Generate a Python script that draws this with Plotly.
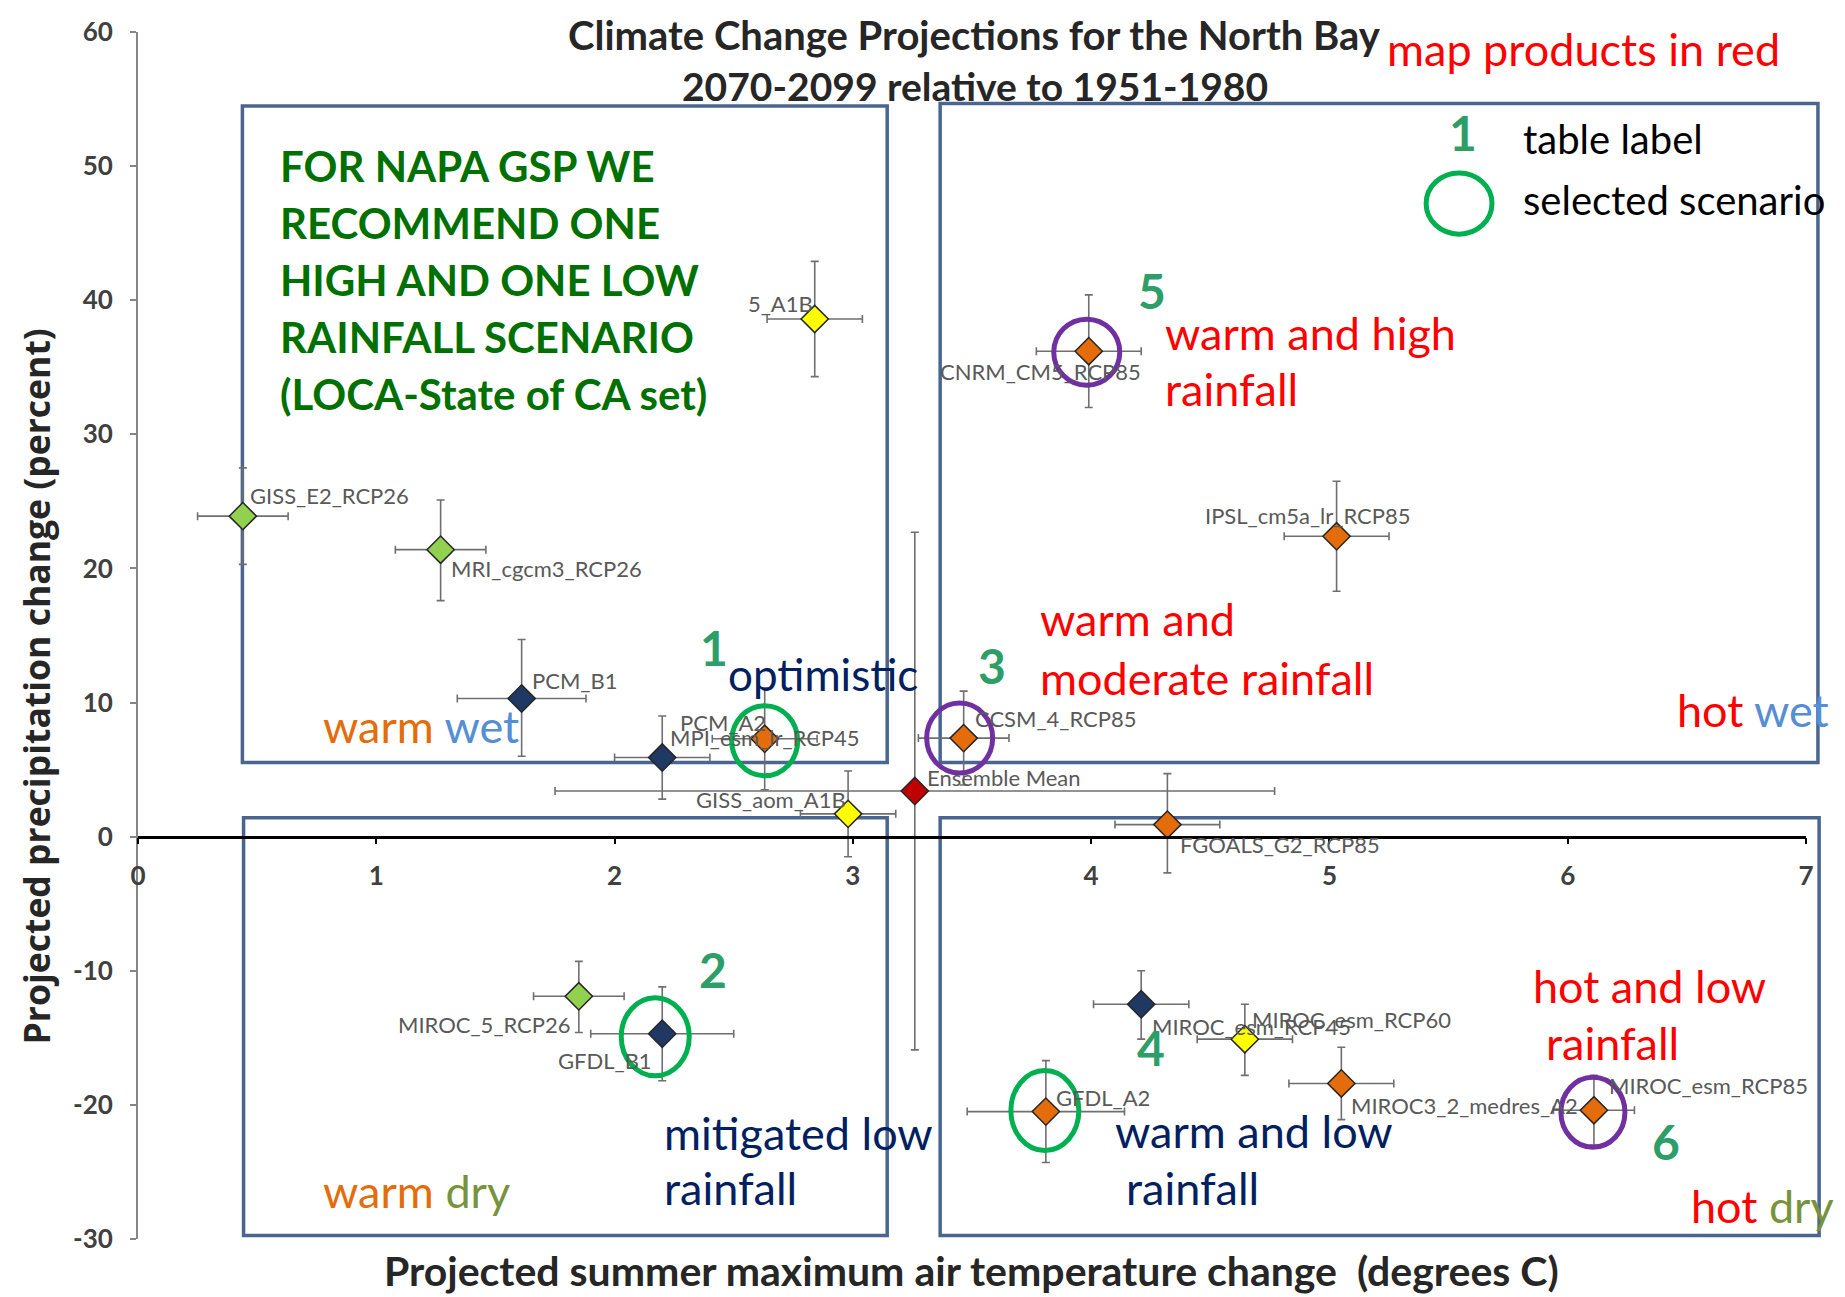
import plotly.graph_objects as go

# ---------------- data ----------------
models = ["GISS_E2_RCP26", "MRI_cgcm3_RCP26", "5_A1B", "PCM_B1", "PCM_A2",
          "MPI_esm_lr_RCP45", "GISS_aom_A1B", "Ensemble Mean", "CCSM_4_RCP85",
          "CNRM_CM5_RCP85", "IPSL_cm5a_lr_RCP85", "FGOALS_G2_RCP85",
          "MIROC_5_RCP26", "GFDL_B1", "MIROC_esm_RCP45", "MIROC_esm_RCP60",
          "MIROC3_2_medres_A2", "MIROC_esm_RCP85", "GFDL_A2"]
temp_change = [0.44, 1.27, 2.84, 1.61, 2.20, 2.63, 2.98, 3.26, 3.465, 3.99, 5.03,
               4.32, 1.85, 2.20, 4.21, 4.645, 5.05, 6.11, 3.81]
precip_change = [23.9, 21.4, 38.6, 10.3, 5.9, 7.3, 1.7, 3.4, 7.35, 36.2, 22.4,
                 0.9, -11.9, -14.7, -12.5, -15.1, -18.4, -20.4, -20.5]
temp_err = [0.19, 0.19, 0.20, 0.27, 0.20, 0.22, 0.20, 1.51, 0.19, 0.22, 0.22,
            0.22, 0.19, 0.30, 0.20, 0.20, 0.22, 0.17, 0.33]
precip_err_plus = [3.6, 3.7, 4.3, 4.4, 3.1, 3.8, 3.2, 19.3, 3.5, 4.2, 4.1,
                   3.8, 2.6, 3.5, 2.5, 2.6, 2.7, 2.6, 3.8]
precip_err_minus = [3.6, 3.8, 4.3, 4.3, 3.1, 3.8, 3.2, 19.3, 3.5, 4.2, 4.1,
                    3.6, 2.7, 3.5, 2.6, 2.7, 2.7, 2.6, 3.8]
model_group = ["RCP26", "RCP26", "A1B", "low", "low", "high", "A1B", "mean", "high",
               "high", "high", "high", "RCP26", "low", "low", "A1B", "high", "high", "high"]
selected_green = ["MPI_esm_lr_RCP45", "GFDL_B1", "GFDL_A2"]
selected_purple = ["CCSM_4_RCP85", "CNRM_CM5_RCP85", "MIROC_esm_RCP85"]
x_ticks = [0, 1, 2, 3, 4, 5, 6, 7]
y_ticks = [-30, -20, -10, 0, 10, 20, 30, 40, 50, 60]
y_tick_labels = ["-30", "-20", "-10", "0", "10", "20", "30", "40", "50", "60"]

# ---------------- styling ----------------
group_colors = {"RCP26": "#92d050", "A1B": "#ffff00", "low": "#1f3864",
                "high": "#e46c0a", "mean": "#c00000"}
# label placement: (xanchor, xshift px, yshift px)
label_place = {
    "GISS_E2_RCP26": ("left", 5, 21), "MRI_cgcm3_RCP26": ("left", 8, -19),
    "5_A1B": ("right", 0, 16), "PCM_B1": ("left", 8, 18), "PCM_A2": ("left", 16, 35),
    "MPI_esm_lr_RCP45": ("center", 0, 1), "GISS_aom_A1B": ("right", 0, 14),
    "Ensemble Mean": ("left", 10, 14), "CCSM_4_RCP85": ("left", 9, 20),
    "CNRM_CM5_RCP85": ("center", -48, -20), "IPSL_cm5a_lr_RCP85": ("center", -29, 21),
    "FGOALS_G2_RCP85": ("left", 11, -20), "MIROC_5_RCP26": ("right", -6, -28),
    "GFDL_B1": ("right", -8, -27), "MIROC_esm_RCP45": ("left", 9, -22),
    "MIROC_esm_RCP60": ("left", 5, 20), "MIROC3_2_medres_A2": ("left", 8, -22),
    "MIROC_esm_RCP85": ("left", 13, 25), "GFDL_A2": ("left", 8, 14),
}
# circle (dx, dy, rx, ry) in px
circle_geom = {
    "MPI_esm_lr_RCP45": (0, 2, 33, 35), "GFDL_B1": (-7, 3, 34, 39), "GFDL_A2": (-1, -1, 34, 40),
    "CCSM_4_RCP85": (-4, 0, 33, 35), "CNRM_CM5_RCP85": (-2, 1, 33, 33),
    "MIROC_esm_RCP85": (-1, 2, 32, 35),
}

OFF = 8  # page body margin
W, H = 1845 - OFF, 1297 - OFF
PL, PR, PT, PB = 138, 1806, 32, 1239   # plot area in page pixels
ML, MT = PL - OFF, PT - OFF
MR, MB = (W + OFF) - PR, (H + OFF) - PB
PW, PH = PR - PL, PB - PT
S = 1845 / 1568.0


def px(xs):
    return (xs * S - PL) / PW


def py(ys):
    return (PB - ys * S) / PH


FONT = "Lato"
fig = go.Figure()

fig.add_trace(go.Scatter(
    x=temp_change, y=precip_change, mode="markers",
    marker=dict(symbol="diamond", size=21,
                color=[group_colors[g] for g in model_group],
                line=dict(color="#262626", width=1.5)),
    error_x=dict(type="data", array=temp_err, color="#6f6f6f", thickness=1.6, width=4),
    error_y=dict(type="data", array=precip_err_plus, arrayminus=precip_err_minus,
                 color="#6f6f6f", thickness=1.6, width=4),
    hoverinfo="skip", showlegend=False,
))

annotations = []
for m, xv, yv in zip(models, temp_change, precip_change):
    xa, xs_, ys_ = label_place[m]
    annotations.append(dict(x=xv, y=yv, xref="x", yref="y", text=m, showarrow=False,
                            xanchor=xa, yanchor="middle", xshift=xs_, yshift=ys_,
                            font=dict(family=FONT, size=22, color="#595959")))

shapes = []
# quadrant boxes (shrunk-pixel layout positions)
boxes = [(206, 90, 754, 648), (799, 88, 1545, 648), (207, 695, 754, 1050), (799, 695, 1546, 1050)]
for x0, y0, x1, y1 in boxes:
    shapes.append(dict(type="rect", xref="paper", yref="paper", x0=px(x0), x1=px(x1),
                       y0=py(y1), y1=py(y0), line=dict(color="#4a6590", width=3.5),
                       fillcolor="rgba(0,0,0,0)", layer="below"))

for m, xv, yv in zip(models, temp_change, precip_change):
    if m in selected_green or m in selected_purple:
        dx, dy, rx, ry = circle_geom[m]
        col = "#00b050" if m in selected_green else "#7030a0"
        shapes.append(dict(type="circle", xref="x", yref="y", xsizemode="pixel",
                           ysizemode="pixel", xanchor=xv, yanchor=yv,
                           x0=dx - rx, x1=dx + rx, y0=-dy - ry, y1=-dy + ry,
                           line=dict(color=col, width=5)))

# legend circle
shapes.append(dict(type="circle", xref="paper", yref="paper", x0=px(1212), x1=px(1268),
                   y0=py(199), y1=py(147), line=dict(color="#00b050", width=5)))
# frame lines
shapes.append(dict(type="line", xref="paper", yref="paper", x0=px(0), x1=px(1568),
                   y0=py(2), y1=py(2), line=dict(color="#a6a6a6", width=2)))
shapes.append(dict(type="line", xref="paper", yref="paper", x0=px(1564), x1=px(1564),
                   y0=py(0), y1=py(1102), line=dict(color="#a6a6a6", width=2)))

RED = "#ff0000"; NAVY = "#002060"; DGREEN = "#007000"; NUMG = "#2e9e68"
ORANGE = "#e46c0a"; BLUE = "#558ed5"; OLIVE = "#77933c"


def txt(text, xs, ys, anchor="left", size=45, color="black", bold=False, family=FONT):
    if bold:
        text = "<b>" + text + "</b>"
    annotations.append(dict(x=px(xs), y=py(ys), xref="paper", yref="paper", text=text,
                            showarrow=False, xanchor=anchor, yanchor="middle",
                            font=dict(family=family, size=size, color=color)))


txt("Climate Change Projections for the North Bay", 828, 30, "center", 40, "#262626", True)
txt("2070-2099 relative to 1951-1980", 829, 73, "center", 39, "#262626", True)
txt("map products in red", 1177, 42, "left", 45, RED)
txt("1", 1243, 113, "center", 48, NUMG, True)
txt("table label", 1293, 118, "left", 40, "black")
txt("selected scenario", 1293, 170, "left", 40, "black")
for i, line in enumerate(["FOR NAPA GSP WE", "RECOMMEND ONE", "HIGH AND ONE LOW",
                          "RAINFALL SCENARIO", "(LOCA-State of CA set)"]):
    txt(line, 236, 141 + i * 48.5, "left", 42, DGREEN, True)
txt("5", 979, 247, "center", 48, NUMG, True)
txt("warm and high", 988, 283, "left", 45, RED)
txt("rainfall", 988, 331, "left", 45, RED)
txt("warm and", 882, 526, "left", 45, RED)
txt("moderate rainfall", 882, 576, "left", 45, RED)
txt("3", 843, 566, "center", 48, NUMG, True)
txt("1", 607, 550, "center", 48, NUMG, True)
txt("optimistic", 617, 573, "left", 44, NAVY)
txt('<span style="color:%s">warm</span> <span style="color:%s">wet</span>' % (ORANGE, BLUE),
    273, 617, "left", 45)
txt('<span style="color:%s">hot</span> <span style="color:%s">wet</span>' % (RED, BLUE),
    1556, 603, "right", 45)
txt("2", 606, 824, "center", 48, NUMG, True)
txt("mitigated low", 563, 963, "left", 45, NAVY)
txt("rainfall", 563, 1010, "left", 45, NAVY)
txt('<span style="color:%s">warm</span> <span style="color:%s">dry</span>' % (ORANGE, OLIVE),
    273, 1012, "left", 45)
txt("4", 978, 890, "center", 48, NUMG, True)
txt("warm and low", 946, 961, "left", 45, NAVY)
txt("rainfall", 955, 1010, "left", 45, NAVY)
txt("hot and low", 1402, 838, "center", 45, RED)
txt("rainfall", 1370, 886, "center", 45, RED)
txt("6", 1416, 970, "center", 48, NUMG, True)
txt('<span style="color:%s">hot</span> <span style="color:%s">dry</span>' % (RED, OLIVE),
    1560, 1025, "right", 45)
txt("Projected summer maximum air temperature change  (degrees C)", 826, 1080, "center",
    41, "#262626", True)
annotations.append(dict(x=px(31), y=py(583), xref="paper", yref="paper",
                        text="<b>Projected precipitation change (percent)</b>", textangle=-90,
                        showarrow=False, xanchor="center", yanchor="middle",
                        font=dict(family="Open Sans", size=35.5, color="#262626")))

fig.update_layout(
    width=W, height=H, margin=dict(l=ML, r=MR, t=MT, b=MB),
    paper_bgcolor="white", plot_bgcolor="white",
    xaxis=dict(range=[0, 7], tickvals=x_ticks, anchor="free", position=1 / 3,
               automargin=False, showgrid=False, zeroline=False, showline=True,
               linecolor="#000000", linewidth=2.5, ticks="outside", ticklen=6,
               tickcolor="#000000", tickwidth=2, ticklabelstandoff=9,
               tickfont=dict(family=FONT, size=26, color="#404040", weight="bold")),
    yaxis=dict(range=[-30, 60], tickvals=y_ticks, ticktext=y_tick_labels,
               automargin=False, showgrid=False,
               zeroline=False, showline=True, linecolor="#868686", linewidth=2,
               ticks="outside", ticklen=6, tickcolor="#868686", tickwidth=2,
               ticklabelstandoff=12,
               tickfont=dict(family=FONT, size=26, color="#404040", weight="bold")),
    shapes=shapes, annotations=annotations,
)

fig.write_html("out.html")
